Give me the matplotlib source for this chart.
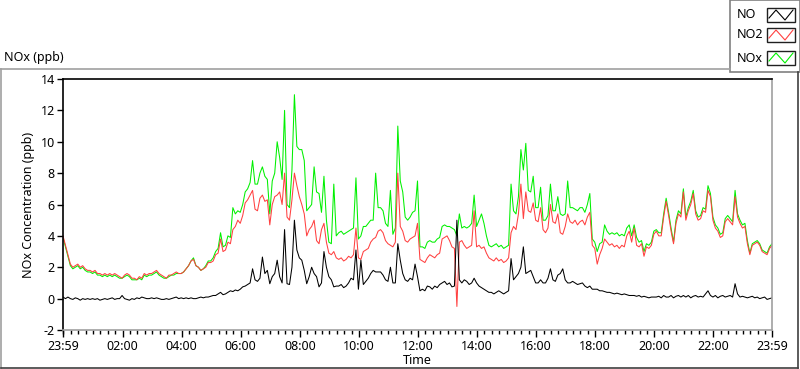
import numpy as np
import matplotlib
matplotlib.use("Agg")
import matplotlib.pyplot as plt
from matplotlib.lines import Line2D
from matplotlib.patches import Rectangle

# ---- data: 5-minute readings starting 23:59 (minutes since start) ----
no2 = [4.0,
 3.4, 2.8, 2.2, 2.0, 2.1, 2.2, 2.0, 2.1, 1.9, 1.8, 1.8, 1.7,
 1.8, 1.6, 1.6, 1.5, 1.6, 1.5, 1.6, 1.5, 1.6, 1.5, 1.4, 1.3,
 1.5, 1.6, 1.5, 1.3, 1.3, 1.2, 1.4, 1.3, 1.6, 1.5, 1.6, 1.6,
 1.7, 1.8, 1.6, 1.5, 1.4, 1.3, 1.5, 1.5, 1.6, 1.7, 1.6, 1.6,
 1.7, 1.9, 2.1, 2.4, 2.5, 2.1, 2.0, 1.8, 1.9, 2.0, 2.3, 2.3,
 2.4, 2.8, 2.9, 3.8, 3.0, 3.1, 3.6, 3.5, 4.4, 4.6, 5.0, 4.8,
 5.3, 6.1, 6.3, 6.6, 6.9, 5.7, 5.6, 6.4, 6.6, 6.2, 6.3, 4.7,
 6.0, 6.5, 6.6, 6.8, 6.0, 8.0, 5.2, 5.0, 6.3, 8.0, 7.2, 6.5,
 6.0, 5.4, 4.0, 4.4, 4.6, 5.0, 3.7, 3.5, 4.4, 4.8, 3.6, 2.9,
 2.8, 3.0, 2.6, 2.5, 2.6, 2.4, 2.5, 2.7, 2.6, 2.8, 4.5, 2.6,
 2.5, 3.0, 3.1, 3.2, 3.6, 3.8, 3.9, 4.3, 4.4, 4.2, 3.7, 3.5,
 3.4, 3.3, 3.6, 8.0, 4.6, 4.3, 3.7, 3.6, 3.8, 3.9, 4.0, 4.8,
 2.5, 2.4, 2.3, 2.6, 2.8, 2.7, 2.6, 2.8, 2.9, 3.8, 3.9, 4.0,
 3.7, 3.3, 3.2, -0.5, 3.6, 3.7, 3.4, 3.2, 3.3, 3.4, 5.6, 3.3,
 3.4, 3.2, 3.3, 2.9, 2.6, 2.5, 2.4, 2.6, 2.4, 2.5, 2.3, 2.4,
 2.6, 4.2, 4.6, 4.4, 5.4, 7.3, 5.1, 6.8, 5.6, 5.5, 6.1, 5.0,
 4.9, 5.8, 4.4, 4.2, 4.5, 6.0, 4.9, 4.8, 5.4, 4.2, 4.1, 4.6,
 5.4, 4.9, 4.8, 5.0, 4.7, 4.9, 5.0, 4.7, 5.2, 5.5, 3.4, 3.2,
 2.2, 2.8, 3.2, 3.8, 3.6, 3.4, 3.5, 3.3, 3.4, 3.2, 3.4, 3.3,
 4.0, 4.3, 3.6, 4.5, 3.4, 3.3, 3.5, 2.7, 3.3, 3.2, 3.4, 4.1,
 4.3, 4.0, 4.0, 5.2, 6.2, 5.3, 4.3, 3.5, 4.8, 5.4, 5.2, 6.8,
 5.0, 5.6, 6.0, 6.7, 5.4, 5.0, 5.1, 5.6, 5.5, 6.9, 6.5, 5.0,
 4.5, 4.3, 3.9, 4.0, 4.9, 5.1, 4.9, 4.7, 6.5, 5.2, 4.8, 4.5,
 4.6, 3.5, 2.8, 3.4, 3.5, 3.6, 3.4, 3.0, 2.9, 2.8, 3.2, 3.4]

nox = [3.9,
 3.3, 2.7, 2.1, 1.9, 2.0, 2.1, 1.9, 2.0, 1.8, 1.7, 1.7, 1.6,
 1.7, 1.5, 1.5, 1.4, 1.5, 1.4, 1.5, 1.4, 1.5, 1.4, 1.3, 1.3,
 1.4, 1.5, 1.4, 1.2, 1.2, 1.2, 1.3, 1.2, 1.5, 1.4, 1.5, 1.5,
 1.6, 1.7, 1.5, 1.4, 1.3, 1.3, 1.4, 1.5, 1.5, 1.6, 1.6, 1.6,
 1.7, 1.9, 2.1, 2.4, 2.6, 2.1, 2.0, 1.8, 1.9, 2.1, 2.4, 2.4,
 2.6, 3.0, 3.2, 4.2, 3.3, 3.4, 4.0, 3.9, 5.8, 5.4, 5.6, 5.5,
 6.0, 6.8, 7.0, 7.4, 8.8, 7.3, 7.3, 8.0, 8.4, 7.8, 7.6, 5.4,
 7.5, 8.0, 10.0, 9.0, 7.6, 12.0, 6.0, 5.8, 8.2, 13.0, 9.7, 9.5,
 9.5, 8.8, 5.6, 5.8, 6.0, 8.4, 6.8, 6.7, 5.5, 7.8, 5.0, 3.6,
 3.5, 7.3, 4.0, 4.2, 4.3, 4.1, 4.2, 4.3, 4.4, 4.5, 7.7, 3.8,
 4.0, 4.6, 4.6, 4.8, 5.0, 5.0, 8.0, 5.8, 5.8, 5.6, 4.8, 4.6,
 6.9, 4.1, 4.5, 11.0, 7.5, 6.8, 5.2, 5.0, 5.2, 5.5, 5.6, 7.5,
 3.3, 3.3, 3.2, 3.6, 3.7, 3.6, 3.6, 3.8, 3.9, 4.6, 4.7, 4.6,
 4.6, 4.5, 4.4, 4.0, 5.4, 4.5, 4.6, 4.5, 4.6, 4.8, 6.6, 4.6,
 5.0, 5.4, 4.8, 4.0, 3.4, 3.3, 3.4, 3.5, 3.3, 3.4, 3.2, 3.3,
 3.4, 7.3, 5.6, 5.4, 6.5, 9.5, 8.2, 9.9, 6.9, 6.8, 7.8, 5.8,
 5.8, 7.1, 5.0, 5.0, 5.3, 7.3, 5.6, 5.6, 6.5, 5.4, 5.3, 5.4,
 7.5, 5.8, 5.8, 5.7, 5.6, 5.8, 5.8, 5.5, 6.0, 6.7, 3.8, 3.6,
 3.0, 3.5, 3.6, 4.7, 4.3, 4.1, 4.2, 4.1, 4.2, 4.0, 4.1, 4.0,
 4.5, 4.7, 4.0, 4.7, 3.9, 3.6, 3.7, 3.0, 3.5, 3.4, 3.6, 4.3,
 4.4, 4.2, 4.2, 5.4, 6.4, 5.5, 4.5, 3.6, 5.0, 5.6, 5.4, 7.0,
 5.2, 5.8, 6.2, 6.9, 5.6, 5.2, 5.3, 5.8, 5.7, 7.2, 6.7, 5.2,
 4.7, 4.5, 4.1, 4.2, 5.1, 5.3, 5.1, 4.9, 6.9, 5.4, 5.0, 4.7,
 4.8, 3.7, 2.9, 3.5, 3.6, 3.7, 3.5, 3.1, 3.0, 2.9, 3.3, 3.5]

no = [0.1,
 0.0, 0.1, 0.0, -0.05, 0.05, 0.0, -0.1, 0.0, -0.05, 0.0, -0.05, 0.0,
 -0.05, 0.0, -0.1, -0.05, 0.0, -0.05, 0.0, 0.05, -0.05, 0.0, 0.0, 0.2,
 0.0, -0.05, -0.1, 0.0, -0.05, 0.05, 0.0, 0.1, 0.05, 0.0, 0.0, 0.05,
 0.0, 0.05, 0.0, -0.05, -0.05, 0.0, -0.05, 0.0, 0.05, 0.1, 0.0, 0.05,
 0.0, 0.05, 0.0, 0.05, 0.0, 0.0, 0.05, 0.1, 0.05, 0.1, 0.1, 0.15,
 0.2, 0.2, 0.3, 0.4, 0.25, 0.3, 0.4, 0.5, 0.45, 0.55, 0.5, 0.6,
 0.75, 0.8, 0.9, 1.0, 1.9, 1.2, 1.1, 1.3, 2.65, 1.6, 1.8, 0.95,
 1.4, 1.6, 2.45, 1.4, 1.0, 4.4, 0.95, 0.9, 2.0, 5.0, 3.1, 2.6,
 2.45, 1.8, 0.95, 1.4, 2.0, 1.6, 1.4, 0.75, 1.0, 3.0, 2.0, 1.4,
 1.2, 0.75, 0.8, 0.8, 0.9, 0.7, 0.8, 1.0, 1.3, 1.2, 3.1, 0.6,
 2.45, 0.9, 1.1, 1.3, 1.6, 1.8, 1.7, 1.7, 1.7, 1.5, 1.2, 1.1,
 2.0, 1.0, 1.0, 3.5, 2.45, 1.6, 1.2, 1.1, 1.3, 1.2, 2.2, 1.4,
 0.5, 0.6, 0.5, 0.8, 0.75, 0.6, 0.8, 0.7, 0.9, 1.0, 1.1, 0.9,
 1.0, 0.75, 0.8, 5.0, 1.2, 1.0, 1.2, 1.1, 0.9, 1.0, 1.3, 1.0,
 0.8, 0.7, 0.6, 0.5, 0.4, 0.4, 0.3, 0.4, 0.5, 0.4, 0.3, 0.4,
 0.5, 2.55, 1.2, 1.4, 1.6, 2.0, 3.3, 1.6, 1.7, 1.8, 1.4, 1.0,
 1.0, 1.2, 1.0, 1.0, 1.3, 1.9, 1.2, 1.1, 1.5, 1.6, 1.9, 1.2,
 1.0, 1.0, 1.1, 1.0, 0.9, 0.95, 1.0, 0.8, 0.7, 0.8, 0.6, 0.6,
 0.6, 0.5, 0.5, 0.45, 0.4, 0.4, 0.35, 0.3, 0.35, 0.3, 0.25, 0.3,
 0.25, 0.2, 0.2, 0.2, 0.15, 0.2, 0.1, 0.15, 0.1, 0.05, 0.1, 0.1,
 0.1, 0.15, 0.05, 0.2, 0.1, 0.1, 0.2, 0.05, 0.15, 0.2, 0.1, 0.2,
 0.1, 0.2, 0.05, 0.15, 0.2, 0.1, 0.15, 0.1, 0.3, 0.5, 0.2, 0.1,
 0.2, 0.05, 0.15, 0.2, 0.1, 0.15, 0.2, 0.1, 0.95, 0.3, 0.1, 0.15,
 0.1, 0.05, 0.1, 0.15, 0.05, 0.1, 0.0, 0.05, 0.1, -0.05, 0.0, 0.05]

minutes = [5 * i for i in range(len(no2))]

tick_minutes = [0, 121, 241, 361, 481, 601, 721, 841, 961, 1081, 1201, 1321, 1440]
tick_labels = ["23:59", "02:00", "04:00", "06:00", "08:00", "10:00", "12:00",
               "14:00", "16:00", "18:00", "20:00", "22:00", "23:59"]
y_ticks = [-2, 0, 2, 4, 6, 8, 10, 12, 14]
series_names = ["NO", "NO2", "NOx"]

# ---- figure ----
W, H = 800, 369
fig = plt.figure(figsize=(W / 100, H / 100), dpi=100)
fig.patch.set_facecolor("white")
plt.rcParams['font.family'] = ['Noto Sans', 'DejaVu Sans']

def fx(px):
    return px / W

def fy(py):
    return 1 - py / H

L, R, T, B = 63, 772, 79, 330
ax = fig.add_axes([fx(L), fy(B), (R - L) / W, (B - T) / H])

c_no, c_no2, c_nox = "#000000", "#ff4040", "#00f000"
ax.plot(minutes, nox, color=c_nox, lw=0.75)
ax.plot(minutes, no2, color=c_no2, lw=0.75)
ax.plot(minutes, no, color=c_no, lw=0.75)

ax.set_xlim(0, 1440)
ax.set_ylim(-2, 14)
ax.set_yticks(y_ticks)
ax.set_yticklabels([str(v) for v in y_ticks])
ax.set_xticks(tick_minutes)
ax.set_xticklabels(tick_labels)
ax.set_xticks([1 + 15 * k for k in range(96)], minor=True)
ax.tick_params(axis="both", which="major", labelsize=9, color="black",
               direction="out", length=4, width=1, pad=2)
ax.tick_params(axis="x", which="major", length=5)
ax.tick_params(axis="x", which="minor", length=3, width=1, direction="out")
for s in ("left", "top"):
    ax.spines[s].set_color("black")
for s in ("right", "bottom"):
    ax.spines[s].set_color("#a0a0a0")
for s in ax.spines.values():
    s.set_linewidth(1.2)

ax.set_ylabel("NOx Concentration (ppb)", fontsize=9, labelpad=4)
ax.set_xlabel("Time", fontsize=9, labelpad=1)

# ---- panel frame and title ----
gray = "#a0a0a0"
fig.add_artist(Line2D([fx(0), fx(730)], [fy(69), fy(69)], color=gray, lw=1.2,
                      transform=fig.transFigure))
fig.add_artist(Line2D([fx(1), fx(1)], [fy(69), fy(368)], color=gray, lw=1.2,
                      transform=fig.transFigure))
fig.add_artist(Line2D([fx(1), fx(798)], [fy(367.5), fy(367.5)], color="#404040", lw=1.2,
                      transform=fig.transFigure))
fig.add_artist(Line2D([fx(798), fx(798)], [fy(72), fy(368)], color="#404040", lw=1.2,
                      transform=fig.transFigure))
fig.text(fx(4), fy(58), "NOx (ppb)", fontsize=9, ha="left", va="center")

# ---- legend ----
fig.add_artist(Rectangle((fx(730), fy(72)), 70 / W, 72 / H, transform=fig.transFigure,
                         facecolor="white", edgecolor="#808080", lw=1.2))
leg_rows = [(15, c_no), (35, c_no2), (58, c_nox)]
for name, (yc, col) in zip(series_names, leg_rows):
    fig.text(fx(737), fy(yc), name, fontsize=9, ha="left", va="center")
    bx0, bx1, by0, by1 = 767, 795, yc - 7, yc + 7
    fig.add_artist(Rectangle((fx(bx0), fy(by1)), (bx1 - bx0) / W, (by1 - by0) / H,
                             transform=fig.transFigure, facecolor="white",
                             edgecolor="#202020", lw=1.0))
    xs = [bx0 + 2, bx0 + 9, bx0 + 18, bx0 + 26]
    ys = [yc + 3, yc - 5, yc + 5, yc - 5]
    fig.add_artist(Line2D([fx(v) for v in xs], [fy(v) for v in ys], color=col, lw=0.8,
                          transform=fig.transFigure))

fig.savefig("out.png", dpi=100)
